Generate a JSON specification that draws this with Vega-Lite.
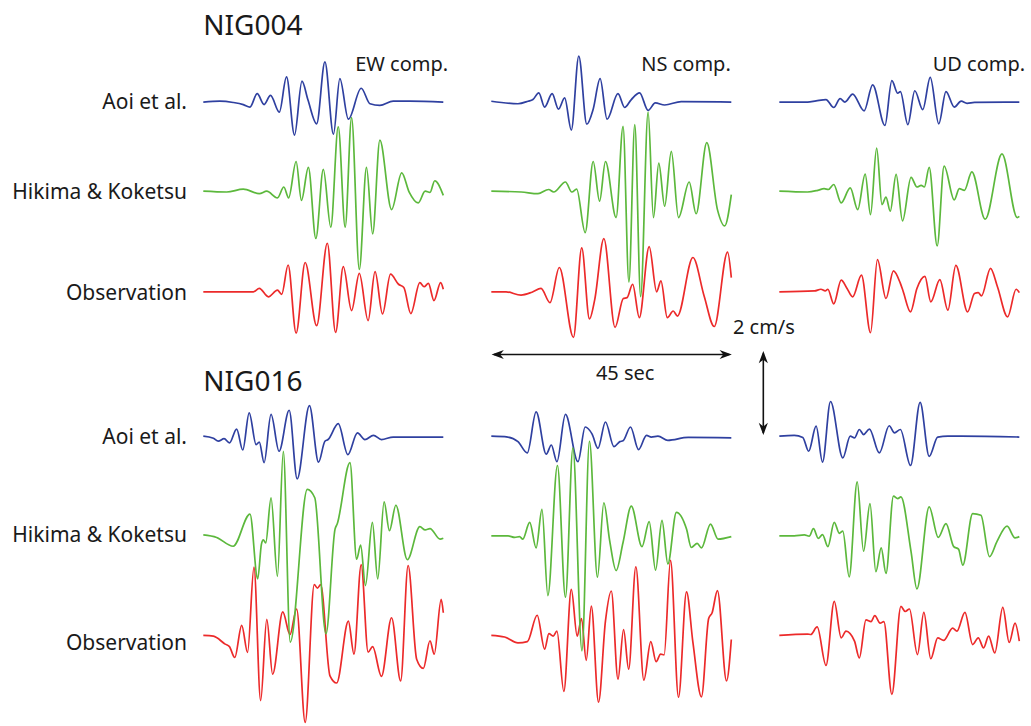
{
  "$schema": "https://vega.github.io/schema/vega-lite/v6.json",
  "width": 1031,
  "height": 726,
  "autosize": {"type": "fit", "contains": "padding"},
  "padding": 0,
  "background": "#ffffff",
  "config": {"view": {"stroke": null}, "font": "Noto Sans", "text": {"font": "Noto Sans", "color": "#1a1a1a"}},
  "datasets": {
    "traces": [
      {"st": "NIG004", "m": "Observation", "c": "EW",
       "t": [0,9.4,10.5,12.2,13.9,14.7,15.9,17.4,19.1,21.25,23.25,24.8,26.25,27.8,29.25,30.9,32.2,33.6,35.1,36.6,37.6,38.9,40.6,41.4,42.2,43.25,44.5,45],
       "v": [0,0,0.08,-0.12,0.04,-0.06,0.64,-0.99,0.7,-0.81,1.16,-0.97,0.6,-0.45,0.44,-0.69,0.48,-0.53,0.42,0.18,0.1,-0.52,0.22,0.12,0.2,-0.21,0.22,0.06]},
      {"st": "NIG004", "m": "Observation", "c": "NS",
       "t": [0,2.76,5.57,7.63,9.32,11,12.75,15.4,16.95,18.4,19.4,21.1,23.2,24.75,25.45,26.5,27.75,29.6,31,31.8,33,34.1,34.9,37.8,39.9,41.8,44.3,45],
       "v": [0,0,-0.08,-0.01,0.08,-0.26,0.58,-1.09,1.05,-0.65,-0.18,1.27,-0.85,-0.16,-0.14,0.18,-0.62,1.08,0,0.26,-0.62,-0.46,-0.58,0.82,-0.1,-0.83,0.95,0.34]},
      {"st": "NIG004", "m": "Observation", "c": "UD",
       "t": [0,6.6,7.8,8.6,9.1,10.2,11.6,12.7,13.75,15.4,17.1,18.4,20,21.4,22.7,23.2,24.6,25.8,27.3,28.4,30.1,31.6,33.1,35.3,36.6,37.3,37.9,39.6,40.9,42.8,44.4,45],
       "v": [0,0.02,0.06,0.02,0.06,-0.29,0.28,0.08,-0.12,0.4,-0.98,0.77,-0.16,0.5,0.2,0.02,-0.48,0.08,0.37,-0.24,0.29,-0.44,0.63,-0.48,-0.04,-0.02,-0.1,0.56,0.12,-0.6,0.06,-0.02]},
      {"st": "NIG016", "m": "Observation", "c": "EW",
       "t": [0,1.9,4.1,4.9,5.9,7.2,8.3,9.5,10.75,11.9,13,14.9,16.25,17.5,19.1,20.8,21.4,22,23.75,25,27.2,28.25,29.6,30.9,31.75,33.4,35.3,37,38.4,40,41.25,42.5,43.3,44.6,45],
       "v": [0,-0.02,-0.21,-0.27,-0.53,0.24,-0.41,1.63,-1.56,0.38,-0.93,0.56,0.02,0.63,-2.08,1.21,1.13,1.21,-0.97,-1.14,0.34,-0.45,1.69,-0.4,-0.27,-0.98,0.42,-1.09,1.67,-0.57,-0.79,-0.13,-0.45,0.86,0.54]},
      {"st": "NIG016", "m": "Observation", "c": "NS",
       "t": [0,2.5,5,6.75,8.6,10,10.8,11.6,12.3,13.6,15,16.1,16.9,17.8,18.75,20.1,21.4,22.5,23.75,24.8,25.75,27.1,28.6,29.9,30.9,31.75,32.4,33.6,35.1,36.6,37.8,39.4,40.75,41.4,42.4,44.1,45],
       "v": [0,-0.04,-0.18,-0.15,0.48,-0.33,0.04,-0.02,0.1,-1.34,1.1,-0.02,0.4,-0.6,0.7,-1.6,0.34,1.06,-1.05,0.14,-0.81,1.64,-1.07,-0.15,-0.63,-0.45,-0.47,1.79,-1.48,1.04,-0.17,-1.47,0.4,0.54,1.07,-1.09,-0.1]},
      {"st": "NIG016", "m": "Observation", "c": "UD",
       "t": [0,5.3,5.9,7.1,8.75,10.3,11.6,12.5,14.1,15,16.25,17.2,17.9,18.9,19.6,21.1,22.8,23.6,24.4,25.9,27.1,28.4,29.7,30.8,32.5,33.3,34.8,36.25,37.3,38.3,39.25,40.4,41.9,43.1,44.2,45],
       "v": [0,0.03,0.02,0.2,-0.72,0.81,-0.06,0.1,-0.14,-0.54,0.37,0.33,0.47,0.29,0.33,-1.41,0.69,0.57,0.63,-0.46,0.55,-0.56,-0.06,-0.12,0.17,0.1,0.55,-0.22,-0.06,-0.3,-0.02,-0.42,0.67,-0.17,0.29,-0.14]},
      {"st": "NIG004", "m": "Aoi et al.", "c": "EW",
       "t": [0,3.1,5.6,7.5,8.75,10.1,11.4,12.6,14.25,15.6,17.1,18.5,19.6,21.25,22.8,24.4,25.6,27.2,29.6,31.25,33.1,35.6,38.75,45],
       "v": [0,0.02,-0.01,-0.06,-0.12,0.2,-0.06,0.16,-0.24,0.6,-0.79,0.5,0.06,-0.52,0.96,-0.77,0.56,-0.41,0.33,-0.04,-0.08,0.02,0.02,0]},
      {"st": "NIG004", "m": "Aoi et al.", "c": "NS",
       "t": [0,5,6.9,7.8,8.9,10,11.4,12.6,13.75,15,16.4,17.9,19.1,20.4,21.7,23.75,25,26.25,27.8,29.4,30.75,32.5,35.6,45],
       "v": [0.02,-0.04,0.02,0.06,0.22,-0.12,0.2,-0.17,0.1,-0.67,1.1,-0.53,-0.17,0.56,-0.41,0.2,-0.13,0.06,0.22,-0.2,-0.02,-0.07,0.01,0]},
      {"st": "NIG004", "m": "Aoi et al.", "c": "UD",
       "t": [0,5.3,6.9,8.75,10.2,11.4,12.3,13.75,15.9,17.5,19.8,21.1,22.2,22.7,24.1,25.4,26.9,28.3,29.9,31.25,32.8,34.1,35.2,36.6,45],
       "v": [0,0,0.03,0.06,-0.13,0.08,0,0.19,-0.21,0.41,-0.56,0.51,0.21,0.25,-0.54,0.27,-0.18,0.59,-0.52,0.25,-0.12,0.02,-0.03,-0.01,0]},
      {"st": "NIG016", "m": "Aoi et al.", "c": "EW",
       "t": [0,1.9,2.8,3.9,4.9,6.25,7.4,8.6,9.9,10.5,11.4,12.7,14.2,16.1,17.6,19.9,21.6,22.8,23.4,25.3,27.1,28.9,30.3,31.9,33.4,35.6,45],
       "v": [0,-0.05,-0.12,-0.06,-0.16,0.17,-0.33,0.56,-0.2,-0.14,-0.63,0.52,-0.36,0.62,-1.02,0.73,-0.62,-0.12,-0.08,0.3,-0.44,0.08,-0.08,0.02,-0.08,-0.02,-0.02]},
      {"st": "NIG016", "m": "Aoi et al.", "c": "NS",
       "t": [0,3.1,5,6.75,8.4,10.3,11.25,12.3,13.9,16.25,17.6,18.9,20,21.4,23,24.1,24.7,26.1,27.6,29.1,30,31.25,33.1,36.9,45],
       "v": [0,-0.02,-0.13,-0.4,0.58,-0.43,-0.21,-0.61,0.52,-0.61,0.22,0.05,-0.29,0.34,-0.25,-0.13,-0.11,0.22,-0.32,0.02,-0.02,0,-0.1,-0.03,-0.04]},
      {"st": "NIG016", "m": "Aoi et al.", "c": "UD",
       "t": [0,2.8,4.4,5.5,6.9,8.1,9.6,11.9,13.3,14.1,15,15.8,16.9,18.75,20.6,21.6,22.7,24.6,26.4,28.1,29.7,31.6,34.1,45],
       "v": [0,0.02,-0.03,-0.36,0.24,-0.62,0.83,-0.52,0,-0.04,0.16,0.04,0.17,-0.4,0.25,0.08,0.16,-0.7,0.81,-0.48,-0.02,0,0,-0.02]},
      {"st": "NIG004", "m": "Hikima & Koketsu", "c": "EW",
       "t": [0,4.4,7.5,10.5,11.9,13.9,15.1,16,17.4,18.4,19.7,21.1,22.5,23.9,25.3,26.6,27.8,29.25,30.6,31.75,33.1,35.3,37.2,38.6,40.3,41.6,42.5,43.4,45],
       "v": [0,-0.02,0.05,-0.06,0,-0.16,0.1,-0.16,0.71,-0.22,0.57,-1.13,0.52,-0.86,1.54,-0.86,1.76,-1.87,0.57,-1.02,1.22,-0.44,0.44,-0.02,-0.28,0,-0.03,0.25,-0.1]},
      {"st": "NIG004", "m": "Hikima & Koketsu", "c": "NS",
       "t": [0,5.6,8.75,10.75,11.7,13.9,15.1,16,17.6,19.1,20.3,21.4,23.4,24.7,25.8,26.9,28,29.4,30.4,31.4,32.5,33.75,35.1,37.1,38.4,40.4,42.4,43.75,45],
       "v": [0,-0.02,-0.06,0.04,-0.02,0.22,-0.02,0.05,-0.99,0.71,-0.24,0.71,-0.63,1.55,-2.17,1.59,-2.52,1.89,-0.63,0.67,-0.36,0.95,-0.63,0.22,-0.54,1.16,-0.44,-0.83,-0.08]},
      {"st": "NIG004", "m": "Hikima & Koketsu", "c": "UD",
       "t": [0,5.3,7.2,8.4,9.2,10.2,11.6,13.3,14.7,16.1,17.1,18.25,19.25,20,20.8,21.9,23.1,24.7,25.8,26.6,27.2,28.1,29.6,30.9,32.8,33.75,34.7,36.1,38.6,41.75,44.6,45],
       "v": [0,-0.02,0.02,0.06,0.04,0.16,-0.28,0.08,-0.44,0.41,-0.56,1.03,-0.32,-0.14,-0.48,0.4,-0.71,0.33,0.1,0.14,0.1,0.57,-1.31,0.6,-0.21,0.06,0.02,0.46,-0.67,0.89,-0.63,-0.6]},
      {"st": "NIG016", "m": "Hikima & Koketsu", "c": "EW",
       "t": [0,2.5,5.6,8.75,10.2,10.9,11.25,11.7,12.7,13.9,15,16.3,19.5,20.9,23,24.7,25.1,27.5,28.75,29.5,30.4,31.7,32.7,33.9,34.9,36.1,38.25,40.6,41.6,42.5,44.4,45],
       "v": [0.02,-0.04,-0.25,0.52,-1.03,-0.2,-0.1,-0.17,0.91,-0.97,2.02,-2.54,1.11,0.91,-2.34,0.16,0.28,1.75,-0.56,-0.22,-1.19,0.32,-1.03,0.81,0.12,0.73,-0.57,0.22,0.14,0.17,-0.08,-0.06]},
      {"st": "NIG016", "m": "Hikima & Koketsu", "c": "NS",
       "t": [0,3.1,4.4,5.3,5.9,7.2,8.4,9.5,10.6,12.4,13.9,15.3,17,18.4,19.9,21.1,22.2,23.4,24.7,26.25,28.25,29.6,30.8,32,33.1,34.7,36.6,37.5,38.6,39.4,41.1,42.5,45],
       "v": [0,0,-0.04,-0.02,-0.08,0.32,-0.29,0.63,-1.43,1.68,-1.47,2.1,-2.75,2.26,-0.99,0.79,-0.12,-0.83,-0.16,0.71,-0.26,0.34,-0.82,0.37,-0.67,0.56,0.16,-0.28,-0.18,-0.29,0.28,-0.08,-0.02]},
      {"st": "NIG016", "m": "Hikima & Koketsu", "c": "UD",
       "t": [0,2.8,4.7,5.6,6.4,7.3,8.1,9.1,10.3,11.25,11.9,13.1,14.6,15.8,17,18.1,19.1,20,21.4,22.2,22.8,24.7,25.8,28.1,29.8,31.25,32.7,33.6,34.4,36.25,37.8,39.4,40.8,42.7,44.2,45],
       "v": [0,0,0.02,-0.01,0.17,-0.06,0.03,-0.26,0.32,0.06,0.11,-0.98,1.29,-0.37,0.77,-0.86,-0.29,-0.9,0.95,0.89,0.93,-0.38,-1.27,0.69,-0.04,0.29,-0.26,-0.32,-0.7,0.53,0.49,-0.5,-0.14,0.23,-0.05,-0.02]}
    ],
    "labels": [
      {"st": "NIG004", "m": "Aoi et al."},
      {"st": "NIG004", "m": "Hikima & Koketsu"},
      {"st": "NIG004", "m": "Observation"},
      {"st": "NIG016", "m": "Aoi et al."},
      {"st": "NIG016", "m": "Hikima & Koketsu"},
      {"st": "NIG016", "m": "Observation"}
    ],
    "heads": [
      {"dir": "l", "x": 55.2, "y": -8.476},
      {"dir": "r", "x": 97.95, "y": -8.476},
      {"dir": "u", "x": 105.0, "y": -8.54},
      {"dir": "d", "x": 105.0, "y": -10.255}
    ]
  },
  "layer": [
    {
      "data": {"name": "traces"},
      "transform": [
        {"flatten": ["t", "v"]},
        {"calculate": "datum.t + 54 * indexof(['EW','NS','UD'], datum.c)", "as": "x"},
        {"calculate": "datum.v - [2.44,4.571,6.976,10.429,12.81,15.19][(datum.st == 'NIG016' ? 3 : 0) + indexof(['Aoi et al.','Hikima & Koketsu','Observation'], datum.m)]", "as": "y"}
      ],
      "layer": [
        {
          "transform": [{"filter": "datum.m == 'Aoi et al.'"}],
          "mark": {"type": "line", "interpolate": "monotone", "strokeWidth": 1.7, "color": "#2f40a0"},
          "encoding": {
            "x": {"field": "x", "type": "quantitative", "scale": {"domain": [-38.12, 155.19], "nice": false, "zero": false}, "axis": null},
            "y": {"field": "y", "type": "quantitative", "scale": {"domain": [-17.286, 0], "nice": false, "zero": false}, "axis": null},
            "detail": [{"field": "st"}, {"field": "c"}]
          }
        },
        {
          "transform": [{"filter": "datum.m == 'Observation'"}],
          "mark": {"type": "line", "interpolate": "monotone", "strokeWidth": 1.7, "color": "#ec2a2a"},
          "encoding": {
            "x": {"field": "x", "type": "quantitative"},
            "y": {"field": "y", "type": "quantitative"},
            "detail": [{"field": "st"}, {"field": "c"}]
          }
        },
        {
          "transform": [{"filter": "datum.m == 'Hikima & Koketsu'"}],
          "mark": {"type": "line", "interpolate": "monotone", "strokeWidth": 1.7, "color": "#5cb83c"},
          "encoding": {
            "x": {"field": "x", "type": "quantitative"},
            "y": {"field": "y", "type": "quantitative"},
            "detail": [{"field": "st"}, {"field": "c"}]
          }
        }
      ]
    },
    {
      "data": {"name": "labels"},
      "transform": [
        {"calculate": "-[2.43,4.571,7.0,10.43,12.786,15.357][(datum.st == 'NIG016' ? 3 : 0) + indexof(['Aoi et al.','Hikima & Koketsu','Observation'], datum.m)]", "as": "y"}
      ],
      "mark": {"type": "text", "align": "right", "baseline": "alphabetic", "dy": 7.5, "fontSize": 21},
      "encoding": {
        "x": {"datum": -3.06, "type": "quantitative"},
        "y": {"field": "y", "type": "quantitative"},
        "text": {"field": "m"}
      }
    },
    {
      "data": {"values": [{"label": "NIG004"}]},
      "mark": {"type": "text", "align": "left", "baseline": "alphabetic", "fontSize": 28},
      "encoding": {"x": {"datum": 0, "type": "quantitative"}, "y": {"datum": -0.833, "type": "quantitative"}, "text": {"field": "label"}}
    },
    {
      "data": {"values": [{"label": "NIG016"}]},
      "mark": {"type": "text", "align": "left", "baseline": "alphabetic", "fontSize": 28},
      "encoding": {"x": {"datum": 0, "type": "quantitative"}, "y": {"datum": -9.357, "type": "quantitative"}, "text": {"field": "label"}}
    },
    {
      "data": {"values": [{"label": "EW comp."}]},
      "mark": {"type": "text", "align": "right", "baseline": "alphabetic", "fontSize": 20},
      "encoding": {"x": {"datum": 45.9, "type": "quantitative"}, "y": {"datum": -1.69, "type": "quantitative"}, "text": {"field": "label"}}
    },
    {
      "data": {"values": [{"label": "NS comp."}]},
      "mark": {"type": "text", "align": "right", "baseline": "alphabetic", "fontSize": 20},
      "encoding": {"x": {"datum": 98.9, "type": "quantitative"}, "y": {"datum": -1.69, "type": "quantitative"}, "text": {"field": "label"}}
    },
    {
      "data": {"values": [{"label": "UD comp."}]},
      "mark": {"type": "text", "align": "right", "baseline": "alphabetic", "fontSize": 20},
      "encoding": {"x": {"datum": 154.1, "type": "quantitative"}, "y": {"datum": -1.69, "type": "quantitative"}, "text": {"field": "label"}}
    },
    {
      "data": {"values": [{"label": "45 sec"}]},
      "mark": {"type": "text", "align": "center", "baseline": "alphabetic", "fontSize": 20},
      "encoding": {"x": {"datum": 79.1, "type": "quantitative"}, "y": {"datum": -9.09, "type": "quantitative"}, "text": {"field": "label"}}
    },
    {
      "data": {"values": [{"label": "2 cm/s"}]},
      "mark": {"type": "text", "align": "left", "baseline": "alphabetic", "fontSize": 20},
      "encoding": {"x": {"datum": 99.3, "type": "quantitative"}, "y": {"datum": -7.976, "type": "quantitative"}, "text": {"field": "label"}}
    },
    {
      "data": {"values": [{"bar": "time"}]},
      "mark": {"type": "rule", "color": "#111111", "strokeWidth": 1.6},
      "encoding": {"x": {"datum": 54.5, "type": "quantitative"}, "x2": {"datum": 98.6}, "y": {"datum": -8.476, "type": "quantitative"}}
    },
    {
      "data": {"values": [{"bar": "amp"}]},
      "mark": {"type": "rule", "color": "#111111", "strokeWidth": 1.6},
      "encoding": {"x": {"datum": 105.0, "type": "quantitative"}, "y": {"datum": -8.45, "type": "quantitative"}, "y2": {"datum": -10.35}}
    },
    {
      "data": {"name": "heads"},
      "mark": {"type": "point", "filled": true, "color": "#111111", "opacity": 1, "size": 150, "strokeWidth": 0},
      "encoding": {
        "x": {"field": "x", "type": "quantitative"},
        "y": {"field": "y", "type": "quantitative"},
        "shape": {"field": "dir", "type": "nominal", "legend": null,
          "scale": {"domain": ["l", "r", "u", "d"],
                    "range": ["M -1 0 L 1 -0.75 L 0.4 0 L 1 0.75 Z", "M 1 0 L -1 -0.75 L -0.4 0 L -1 0.75 Z", "M 0 -1 L 0.75 1 L 0 0.4 L -0.75 1 Z", "M 0 1 L 0.75 -1 L 0 -0.4 L -0.75 -1 Z"]}}
      }
    }
  ]
}
